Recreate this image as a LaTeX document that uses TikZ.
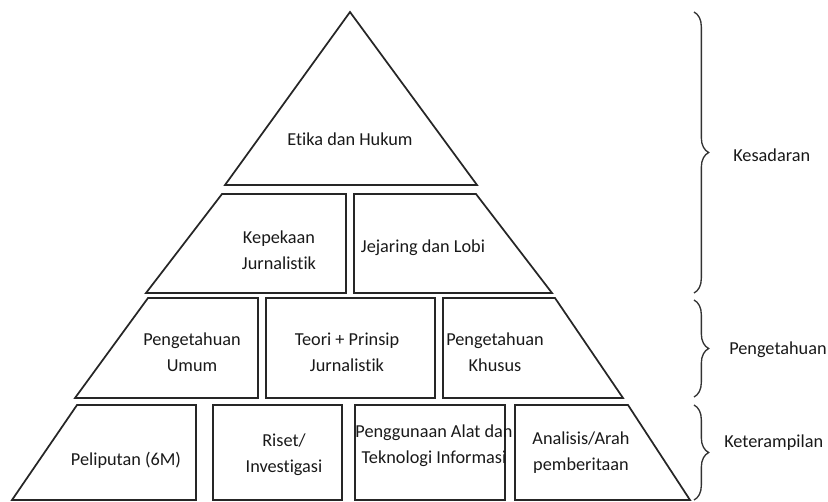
\documentclass[tikz,border=0pt]{standalone}
\usepackage{fontspec}
\setmainfont{Carlito}[Ligatures=NoCommon]
\usetikzlibrary{decorations.pathreplacing}

\begin{document}
\begin{tikzpicture}[x=0.75pt,y=-0.75pt,
  blok/.style={draw=black!85,line width=1.3pt,line join=miter},
  teks/.style={align=center,font=\fontsize{13.7}{19.5}\selectfont,inner sep=0pt,text=black!90},
  kurung/.style={draw=black!80,line width=1pt,decorate,decoration={brace,amplitude=11pt}}]
  \useasboundingbox (0,0) rectangle (828,501);

  % puncak
  \draw[blok] (350,12) -- (477,185) -- (225,185) -- cycle;
  \node[teks] (etika) at (350,139) {Etika dan Hukum};

  % baris kedua
  \draw[blok] (222,194) -- (346,194) -- (346,293) -- (146,293) -- cycle;
  \draw[blok] (354,194) -- (476,194) -- (552,293) -- (354,293) -- cycle;
  \node[teks] (kepekaan) at (279,250) {Kepekaan\\Jurnalistik};
  \node[teks] (jejaring) at (423,248) {Jejaring dan Lobi};

  % baris ketiga
  \draw[blok] (148,298) -- (258,298) -- (258,398) -- (75,398) -- cycle;
  \draw[blok] (266,298) rectangle (435,398);
  \draw[blok] (443,298) -- (555,298) -- (623,398) -- (443,398) -- cycle;
  \node[teks] (umum) at (192,352) {Pengetahuan\\Umum};
  \node[teks] (teori) at (347,352) {Teori + Prinsip\\Jurnalistik};
  \node[teks] (khusus) at (495,352) {Pengetahuan\\Khusus};

  % baris dasar
  \draw[blok] (77,405) -- (196,405) -- (196,500) -- (12,500) -- cycle;
  \draw[blok] (213,405) rectangle (342,500);
  \draw[blok] (355,405) rectangle (505,500);
  \draw[blok] (515,405) -- (628,405) -- (690,500) -- (515,500) -- cycle;
  \node[teks] (liputan) at (126,460) {Peliputan (6M)};
  \node[teks] (riset) at (284,455) {Riset/\\Investigasi};
  \node[teks] (alat) at (434,446) {Penggunaan Alat dan\\Teknologi Informasi};
  \node[teks] (analisis) at (581,453) {Analisis/Arah\\pemberitaan};

  % kurung kurawal
  \coordinate (k1a) at (694,12);
  \coordinate (k1b) at (694,293);
  \coordinate (k2a) at (694,300);
  \coordinate (k2b) at (694,397);
  \coordinate (k3a) at (694,405);
  \coordinate (k3b) at (694,500);
  \draw[kurung] (k1a) -- (k1b);
  \draw[kurung] (k2a) -- (k2b);
  \draw[kurung] (k3a) -- (k3b);
  \node[teks,anchor=west] (sadar) at (733,155) {Kesadaran};
  \node[teks,anchor=west] (tahu) at (729,350) {Pengetahuan};
  \node[teks,anchor=west] (terampil) at (724,443) {Keterampilan};
\end{tikzpicture}
\end{document}
